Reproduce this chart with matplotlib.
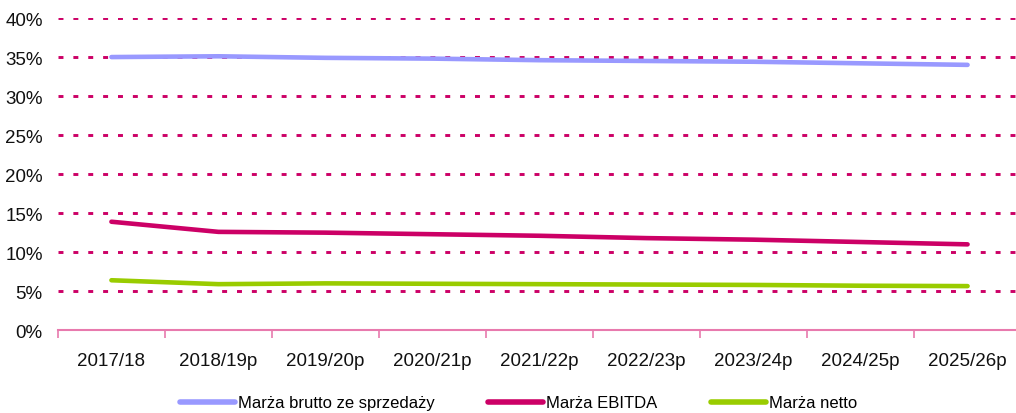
import numpy as np
import matplotlib
matplotlib.use('Agg')
import matplotlib.pyplot as plt
from matplotlib.ticker import FixedLocator

plt.rcParams['font.family'] = ['Liberation Sans', 'DejaVu Sans']

lata = ['2017/18', '2018/19p', '2019/20p', '2020/21p', '2021/22p',
        '2022/23p', '2023/24p', '2024/25p', '2025/26p']
brutto = [35.0, 35.1, 34.9, 34.8, 34.6, 34.5, 34.4, 34.2, 34.0]
ebitda = [13.9, 12.6, 12.5, 12.3, 12.1, 11.8, 11.6, 11.3, 11.0]
netto = [6.4, 5.9, 6.0, 5.95, 5.9, 5.85, 5.8, 5.7, 5.65]
y_ticks = [0, 5, 10, 15, 20, 25, 30, 35, 40]

fig = plt.figure(figsize=(10.16, 4.14), dpi=100)
ax = fig.add_axes([0.057, 0.200, 0.948, 0.754])

x = np.arange(len(lata))

# siatka - kropkowana
for t in y_ticks[1:]:
    ax.axhline(t, color='#CC0066', lw=2.1, linestyle=(0, (1.7, 3.4)), zorder=1)

ax.plot(x, brutto, color='#9999FF', lw=3.3, solid_capstyle='round', label='Marża brutto ze sprzedaży', zorder=3)
ax.plot(x, ebitda, color='#CC0066', lw=3.3, solid_capstyle='round', label='Marża EBITDA', zorder=3)
ax.plot(x, netto, color='#99CC00', lw=3.3, solid_capstyle='round', label='Marża netto', zorder=3)

ax.set_xlim(-0.5, len(lata) - 0.5)
ax.set_ylim(0, 40)
ax.set_yticks(y_ticks)
ax.set_yticklabels([str(t) + '%' for t in y_ticks], fontsize=13.5, color='#111111')
ax.set_xticks(x)
ax.set_xticklabels(lata, fontsize=13.5, color='#111111')
ax.xaxis.set_minor_locator(FixedLocator(np.arange(-0.5, len(lata), 1.0)))
ax.tick_params(axis='x', which='major', length=0, pad=16)
ax.tick_params(axis='x', which='minor', length=6, width=1.2, color='#E87AAE', direction='out')
ax.tick_params(axis='y', length=0, pad=11)

for s in ['top', 'right', 'left']:
    ax.spines[s].set_visible(False)
ax.spines['bottom'].set_color('#E87AAE')
ax.spines['bottom'].set_linewidth(1.5)
ax.spines['bottom'].set_zorder(2)

leg = fig.legend(loc='lower left', bbox_to_anchor=(0.162, -0.03), ncol=3, frameon=False,
                 fontsize=12, handlelength=3.3, handletextpad=0.2, columnspacing=3.2)
for l in leg.get_lines():
    l.set_linewidth(4)

plt.savefig('out.png', dpi=100)
